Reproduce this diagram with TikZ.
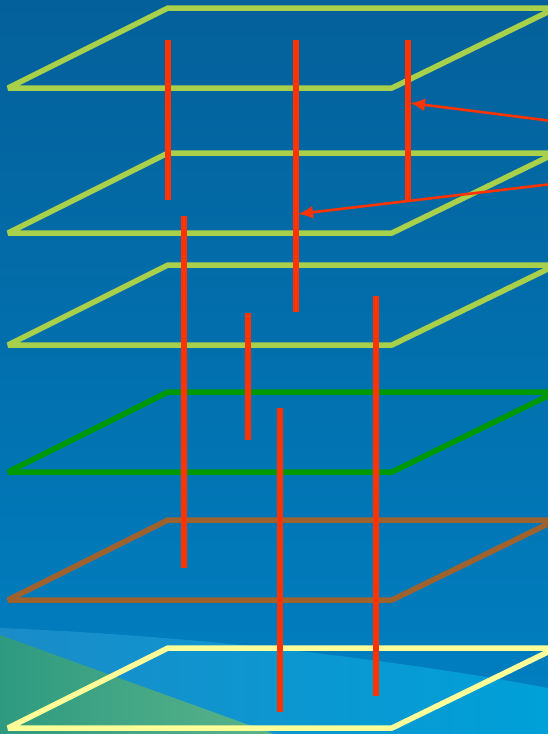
\documentclass[tikz,border=0pt]{standalone}
\usepackage{tikz}
\usepackage{xcolor}
\usetikzlibrary{arrows.meta,calc}

\definecolor{bgtop}{HTML}{04609A}
\definecolor{bgbot}{HTML}{0080C2}
\definecolor{bandl}{HTML}{1A8CC8}
\definecolor{bandr}{HTML}{00A0D8}
\definecolor{fieldl}{HTML}{2E9A80}
\definecolor{fieldr}{HTML}{5BB48A}
\definecolor{planelight}{HTML}{A8D04A}
\definecolor{planegreen}{HTML}{009A00}
\definecolor{planebrown}{HTML}{A0622D}
\definecolor{planepale}{HTML}{FFFF99}
\definecolor{wire}{HTML}{FF3300}

\begin{document}
\begin{tikzpicture}[x=1pt,y=-1pt,>=Latex]
\tikzset{
				plane/.style={
					line width=5.5pt,
					line join=bevel
				},
				rod/.style={
					draw=wire,
					line width=5.5pt
				},
				pointer/.style={
					-{Latex[length=15pt,width=13pt]},
					draw=wire,
					line width=2.6pt
				}
			}
			% background
			\useasboundingbox (0,0) rectangle (548,734);
			\shade[top color=bgtop,bottom color=bgbot] (0,0) rectangle (548,734);
			\shade[left color=bandl,right color=bandr]
				(0,628) .. controls (200,636) and (400,660) .. (548,688) -- (548,734) -- (0,734) -- cycle;
			\shade[left color=fieldl,right color=fieldr] (0,635) -- (274,734) -- (0,734) -- cycle;
			
			% layers
			\foreach \y/\c in {8/planelight,153/planelight,265/planelight,392/planegreen,520/planebrown,648/planepale}
				\draw[plane,draw=\c] (8,\y+80) -- (168,\y) -- (556,\y) -- (392,\y+80) -- cycle;
			
			% vertical links
			\draw[rod] (168,40) -- (168,200);
			\draw[rod] (296,40) -- (296,312);
			\draw[rod] (408,40) -- (408,200);
			\draw[rod] (184,216) -- (184,568);
			\draw[rod] (248,313) -- (248,440);
			\draw[rod] (376,296) -- (376,696);
			\draw[rod] (280,408) -- (280,712);
			
			\coordinate (linkA) at (410,103);
			\coordinate (linkB) at (298,214);
			\coordinate (srcA) at (552,121);
			\coordinate (srcB) at (552,184);
			\draw[pointer] (srcA) -- (linkA);
			\draw[pointer] (srcB) -- (linkB);
\end{tikzpicture}
\end{document}
